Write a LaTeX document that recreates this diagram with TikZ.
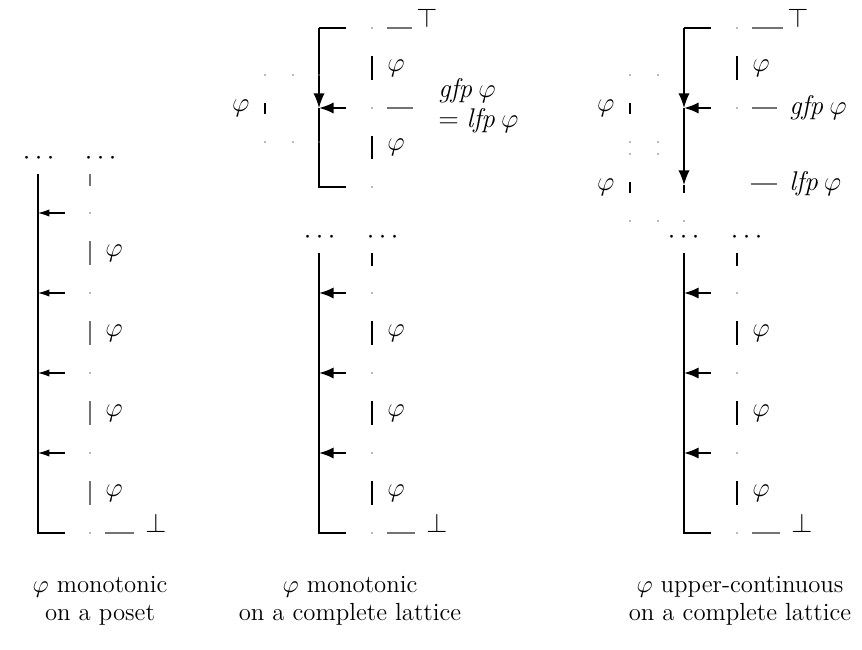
\documentclass[tikz,border=0pt]{standalone}
\usepackage{amsmath}
\usepackage{amssymb}
\usetikzlibrary{arrows.meta,positioning}
\definecolor{chaingray}{RGB}{115,115,115}

\begin{document}
\begin{tikzpicture}[
  x=0.444pt, y=-0.444pt,
  elt/.style={circle, fill=chaingray, inner sep=0pt, minimum size=0.8pt},
  phil/.style={inner sep=0pt, font=\fontsize{13}{14}\selectfont},
  dots/.style={inner sep=0pt, font=\large},
  brk/.style={line width=0.6pt},
  vtip/.style={brk, -{Latex[length=6.5pt,width=5pt]}},
  tar/.style={-{Latex[length=5pt,width=3.2pt]}, line width=0.45pt},
  ar/.style={-{Latex[length=6.5pt,width=5pt]}, line width=0.9pt},
  chainbar/.style={line width=0.75pt, shorten <=12pt, shorten >=12pt},
  lbar/.style={chainbar, line width=0.55pt, draw=chaingray},
  ruleline/.style={line width=0.55pt, draw=chaingray, shorten <=6pt},
  capt/.style={align=center, font=\fontsize{11}{12.2}\selectfont}
]
\useasboundingbox (0,0) rectangle (862,650);

% ---------- left: monotonic on a poset ----------
\node[dots] (ldl) at (41,158) {$\cdots$};
\node[dots] (ldr) at (103,158) {$\cdots$};
\coordinate (lbtop) at (38,174);
\coordinate (lctop) at (90,174);
\foreach \k/\y in {0/213,1/293,2/373,3/453,4/533}{
  \node[elt] (l\k) at (90,\y) {};
  \coordinate (lb\k) at (38,\y);
  \coordinate (la\k) at (65,\y);
}
\draw[brk] (lbtop) -- (lb4) -- (la4);
\foreach \k in {0,...,3} \draw[tar] (la\k) -- (lb\k);
\draw[lbar, shorten <=0pt, shorten >=11.5pt] (lctop) -- (l0);
\foreach \k/\j in {0/1,1/2,2/3,3/4}
  \draw[lbar] (l\k) -- node[phil, right=6.5pt] {$\varphi$} (l\j);
\node[phil, anchor=base] (lbot) at (156,533) {$\bot$};
\draw[ruleline, shorten >=5pt] (l4) -- (l4 -| lbot.west);

% ---------- middle: monotonic on a complete lattice ----------
% upper part
\foreach \k/\y in {0/28,1/108,2/187}{
  \node[elt] (mu\k) at (372,\y) {};
  \coordinate (mub\k) at (319,\y);
  \coordinate (mua\k) at (346,\y);
}
\draw[brk] (mua0) -- (mub0);
\draw[vtip] (mub0) -- (mub1);
\draw[brk] (mub1) -- (mub2) -- (mua2);
\draw[ar] (mua1) -- (mub1);
\draw[chainbar] (mu0) -- node[phil, right=6.5pt] {$\varphi$} (mu1);
\draw[chainbar] (mu1) -- node[phil, right=6.5pt] {$\varphi$} (mu2);
\node[phil, anchor=base] (mtop) at (427,28) {$\top$};
\draw[ruleline, shorten >=2pt] (mu0) -- (mu0 -| mtop.west);
\node[phil, anchor=west, align=left, font=\fontsize{13}{13.2}\selectfont] (mfix) at (438,106)
  {$\mathit{gfp}\,\varphi$\\$=\mathit{lfp}\,\varphi$};
\draw[ruleline, shorten >=11pt] (mu1) -- (mu1 -| mfix.west);
% left of the upper part
\foreach \c/\x in {a/265,b/293,c/319}{
  \node[elt] (mx\c) at (\x,75) {};
  \node[elt] (my\c) at (\x,142) {};
}
\draw[chainbar] (mxa) -- node[phil, left=6.5pt] {$\varphi$} (mya);
% lower part
\node[dots] (mdl) at (322,237) {$\cdots$};
\node[dots] (mdr) at (385,237) {$\cdots$};
\coordinate (mbtop) at (319,253);
\coordinate (mctop) at (372,253);
\foreach \k/\y in {0/293,1/373,2/453,3/533}{
  \node[elt] (m\k) at (372,\y) {};
  \coordinate (mb\k) at (319,\y);
  \coordinate (ma\k) at (346,\y);
}
\draw[brk] (mbtop) -- (mb3) -- (ma3);
\foreach \k in {0,...,2} \draw[ar] (ma\k) -- (mb\k);
\draw[chainbar, shorten <=0pt, shorten >=11.5pt] (mctop) -- (m0);
\foreach \k/\j in {0/1,1/2,2/3}
  \draw[chainbar] (m\k) -- node[phil, right=6.5pt] {$\varphi$} (m\j);
\node[phil, anchor=base] (mbot) at (437,533) {$\bot$};
\draw[ruleline, shorten >=5pt] (m3) -- (m3 -| mbot.west);

% ---------- right: upper-continuous on a complete lattice ----------
% upper part
\foreach \k/\y in {0/28,1/108}{
  \node[elt] (ru\k) at (737,\y) {};
  \coordinate (rub\k) at (684,\y);
  \coordinate (rua\k) at (711,\y);
}
\coordinate (ru2) at (737,184);
\coordinate (rub2) at (684,185);
\coordinate (rustem) at (684,193);
\draw[brk] (rua0) -- (rub0);
\draw[vtip] (rub0) -- (rub1);
\draw[vtip] (rub1) -- (rub2);
\draw[brk] (rub2) -- (rustem);
\draw[ar] (rua1) -- (rub1);
\draw[chainbar] (ru0) -- node[phil, right=6.5pt] {$\varphi$} (ru1);
\node[phil, anchor=base] (rtop) at (798,28) {$\top$};
\draw[ruleline, shorten >=2pt] (ru0) -- (ru0 -| rtop.west);
\node[phil, anchor=west] (rgfp) at (789,108) {$\mathit{gfp}\,\varphi$};
\draw[ruleline, shorten >=5.5pt] (ru1) -- (ru1 -| rgfp.west);
\node[phil, anchor=west] (rlfp) at (789,184) {$\mathit{lfp}\,\varphi$};
\draw[ruleline, shorten >=5.5pt] (ru2) -- (ru2 -| rlfp.west);
% left of the upper part
\foreach \c/\x in {a/630,b/658}{
  \node[elt] (rx\c) at (\x,75) {};
  \node[elt] (ry\c) at (\x,142) {};
  \node[elt] (rz\c) at (\x,154) {};
  \node[elt] (rw\c) at (\x,221) {};
}
\node[elt] (rwc) at (684,221) {};
\draw[chainbar] (rxa) -- node[phil, left=6.5pt] {$\varphi$} (rya);
\draw[chainbar] (rza) -- node[phil, left=6.5pt] {$\varphi$} (rwa);
% lower part
\node[dots] (rdl) at (686,237) {$\cdots$};
\node[dots] (rdr) at (749,237) {$\cdots$};
\coordinate (rbtop) at (684,253);
\coordinate (rctop) at (737,253);
\foreach \k/\y in {0/293,1/373,2/453,3/533}{
  \node[elt] (r\k) at (737,\y) {};
  \coordinate (rb\k) at (684,\y);
  \coordinate (ra\k) at (711,\y);
}
\draw[brk] (rbtop) -- (rb3) -- (ra3);
\foreach \k in {0,...,2} \draw[ar] (ra\k) -- (rb\k);
\draw[chainbar, shorten <=0pt, shorten >=11.5pt] (rctop) -- (r0);
\foreach \k/\j in {0/1,1/2,2/3}
  \draw[chainbar] (r\k) -- node[phil, right=6.5pt] {$\varphi$} (r\j);
\node[phil, anchor=base] (rbot) at (802,533) {$\bot$};
\draw[ruleline, shorten >=5pt] (r3) -- (r3 -| rbot.west);

% captions
\node[capt] (lcap) at (100,601) {$\varphi$ monotonic\\on a poset};
\node[capt] (mcap) at (350,601) {$\varphi$ monotonic\\on a complete lattice};
\node[capt] (rcap) at (740,601) {$\varphi$ upper-continuous\\on a complete lattice};
\end{tikzpicture}
\end{document}
